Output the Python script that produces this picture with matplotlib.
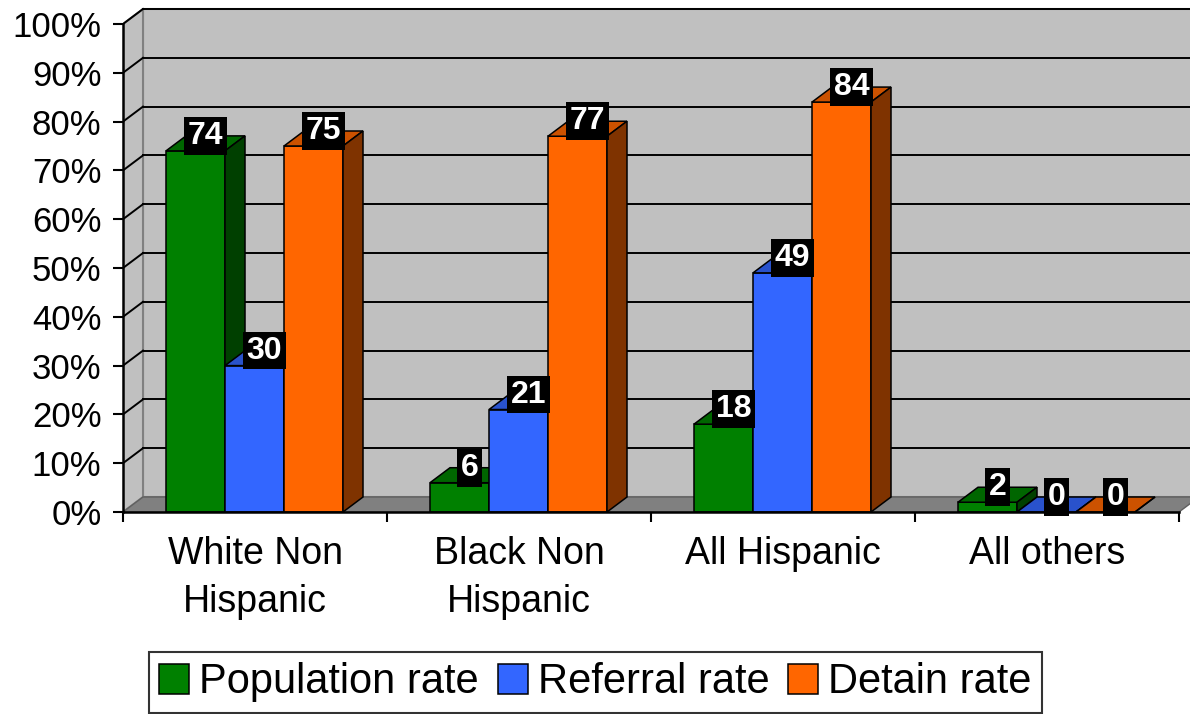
import matplotlib.pyplot as plt
from matplotlib.patches import Polygon, Patch

plt.rcParams['font.family'] = ['Liberation Sans', 'DejaVu Sans']

categories = ["White Non\nHispanic", "Black Non\nHispanic", "All Hispanic", "All others"]
series = ["Population rate", "Referral rate", "Detain rate"]
population = [74, 6, 18, 2]
referral = [30, 21, 49, 0]
detain = [75, 77, 84, 0]
values = [population, referral, detain]

# front, top, side colours for each series
front = ["#008000", "#3366FF", "#FF6600"]
top = ["#006600", "#2952CC", "#CC5200"]
side = ["#004000", "#1F3D99", "#7F3300"]

# depth offset of the pseudo 3D look (category units, percent units)
dx = 20 / 264
dy = 15 / 4.88
gap = 43 / 264
width = 59 / 264
xmax = 1067 / 264
ymax = 512 / 4.88

fig = plt.figure(figsize=(11.9, 7.14), dpi=100)
ax = fig.add_axes([123 / 1190, 202 / 714, 1067 / 1190, 512 / 714])
ax.set_xlim(0, xmax)
ax.set_ylim(0, ymax)

wall = "#C0C0C0"
edge = "#808080"
# back wall
ax.add_patch(Polygon([(dx, dy), (xmax + 1, dy), (xmax + 1, 100 + dy), (dx, 100 + dy)],
                     closed=True, facecolor=wall, edgecolor=edge, lw=1.5, zorder=0))
# side wall
ax.add_patch(Polygon([(0, 0), (dx, dy), (dx, 100 + dy), (0, 100)],
                     closed=True, facecolor=wall, edgecolor=edge, lw=1.5, zorder=0))
# floor
ax.add_patch(Polygon([(0, 0), (4, 0), (4 + dx, dy), (dx, dy)],
                     closed=True, facecolor="#808080", edgecolor="#606060", lw=1, zorder=0.5))

# gridlines
for v in range(10, 101, 10):
    ax.plot([dx, xmax + 1], [v + dy, v + dy], color="black", lw=1.4, zorder=0.6)
    ax.plot([0, dx], [v, v + dy], color="black", lw=1.4, zorder=0.6)

# bars
for c in range(len(categories)):
    for s in range(len(series)):
        v = values[s][c]
        x0 = c + gap + s * width
        x1 = x0 + width
        z = 3 + s
        ax.add_patch(Polygon([(x0, 0), (x1, 0), (x1, v), (x0, v)], closed=True,
                             facecolor=front[s], edgecolor="black", lw=1.1, zorder=z))
        ax.add_patch(Polygon([(x0, v), (x1, v), (x1 + dx, v + dy), (x0 + dx, v + dy)], closed=True,
                             facecolor=top[s], edgecolor="black", lw=1.1, zorder=z))
        ax.add_patch(Polygon([(x1, 0), (x1 + dx, dy), (x1 + dx, v + dy), (x1, v)], closed=True,
                             facecolor=side[s], edgecolor="black", lw=1.1, zorder=z))

# data labels
for c in range(len(categories)):
    for s in range(len(series)):
        v = values[s][c]
        xc = c + gap + s * width + width / 2 + dx / 2
        ax.text(xc, v + dy, str(v), ha="center", va="center", color="white",
                fontsize=23, fontweight="bold", zorder=10,
                bbox=dict(boxstyle="square,pad=0.12", facecolor="black", edgecolor="none"))

# axes
for sp in ["top", "right"]:
    ax.spines[sp].set_visible(False)
ax.spines["left"].set_bounds(0, 100)
ax.spines["bottom"].set_bounds(0, 4)
ax.spines["left"].set_linewidth(1.8)
ax.spines["bottom"].set_linewidth(1.8)
ax.spines["left"].set_zorder(8)
ax.spines["bottom"].set_zorder(8)

ax.set_yticks(range(0, 101, 10))
ax.set_yticklabels([f"{v}%" for v in range(0, 101, 10)])
ax.tick_params(axis="y", length=7.5, width=1.5, pad=8, labelsize=25)

ax.set_xticks([0, 1, 2, 3, 4])
ax.set_xticklabels([])
ax.set_xticks([c + 0.5 for c in range(len(categories))], minor=True)
ax.set_xticklabels(categories, minor=True)
ax.tick_params(axis="x", which="major", length=7.5, width=1.5)
ax.tick_params(axis="x", which="minor", length=0, pad=17, labelsize=27)
for lbl in ax.get_xticklabels(minor=True):
    lbl.set_linespacing(1.43)

handles = [Patch(facecolor=front[s], edgecolor="black", lw=1.1) for s in range(len(series))]
leg = fig.legend(handles, series, loc="upper left", bbox_to_anchor=(149 / 1190, 1 - 652 / 714),
                 ncol=3, fontsize=30, frameon=True, fancybox=False, edgecolor="black",
                 handlelength=0.72, handleheight=0.72, handletextpad=0.24, columnspacing=0.45,
                 borderpad=0.25, borderaxespad=0)
leg.get_frame().set_linewidth(1.5)

fig.savefig("out.png", dpi=100)
